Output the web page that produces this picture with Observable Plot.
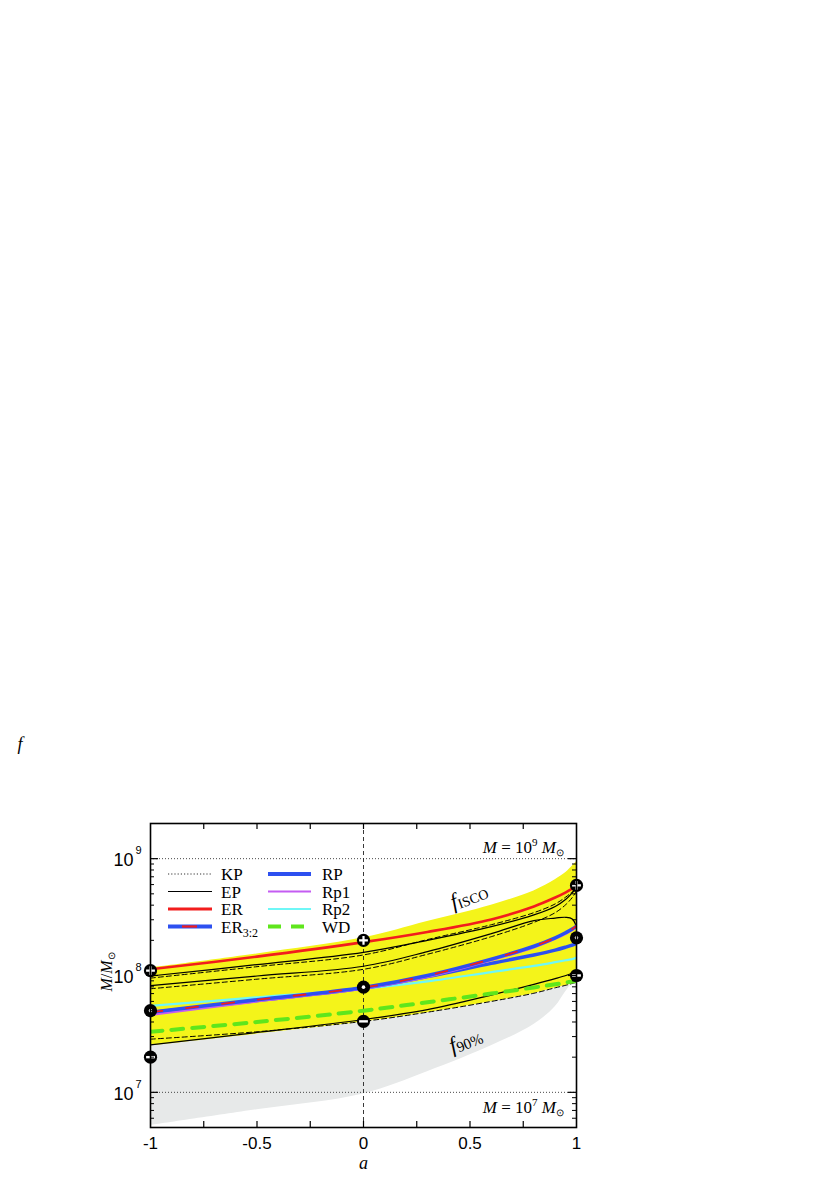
<!DOCTYPE html>
<html><head><meta charset="utf-8">
<script src="https://cdn.jsdelivr.net/npm/d3@7"></script>
<script src="https://cdn.jsdelivr.net/npm/@observablehq/plot@0.6"></script>
<style>
body{margin:0;background:#fff;}
#wrap{width:830px;height:1177px;}
</style></head><body>
<div id="wrap"></div>
<script>
// spin parameter grid
const aGrid = [-1, -0.5, 0, 0.3, 0.6, 0.8, 0.9, 0.95, 0.98, 1];
// yellow band (f_ISCO .. lower) and grey f90% region
const yellowHigh = [1.16e8, 1.53e8, 2.1e8, 2.9e8, 4.0e8, 5.3e8, 6.6e8, 7.6e8, 8.6e8, 9.4e8];
const yellowLow  = [2.5e7, 3.15e7, 4.0e7, 4.8e7, 5.95e7, 7.0e7, 7.8e7, 8.2e7, 8.5e7, 8.7e7];
const greyLow    = [5.2e6, 7.1e6, 9.7e6, 1.5e7, 2.5e7, 3.8e7, 5.4e7, 7.3e7, 8.5e7, 8.7e7];
// model curves
const erVals  = [1.13e8, 1.45e8, 1.93e8, 2.36e8, 3.02e8, 3.9e8, 4.65e8, 5.15e8, 5.55e8, 5.8e8];
const epA     = [9.9e7, 1.24e8, 1.58e8, 2.0e8, 2.62e8, 3.3e8, 3.9e8, 4.5e8, 5.1e8, 5.6e8];
const epB     = [8.2e7, 9.9e7, 1.2e8, 1.6e8, 2.28e8, 2.95e8, 3.1e8, 3.15e8, 3.05e8, 2.6e8];
const epC     = [2.55e7, 3.25e7, 4.2e7, 5.1e7, 6.8e7, 8.4e7, 9.4e7, 1.0e8, 1.05e8, 1.1e8];
const dashA   = [9.5e7, 1.19e8, 1.5e8, 2.03e8, 2.72e8, 3.45e8, 4.1e8, 4.7e8, 5.2e8, 5.5e8];
const dashB   = [7.7e7, 9.3e7, 1.13e8, 1.52e8, 2.15e8, 2.85e8, 3.45e8, 4.05e8, 4.65e8, 5.3e8];
const dashC   = [2.85e7, 3.3e7, 4.05e7, 4.85e7, 6.0e7, 7.05e7, 7.85e7, 8.25e7, 8.55e7, 8.75e7];
const er32    = [4.85e7, 6.2e7, 7.9e7, 1.0e8, 1.38e8, 1.78e8, 2.1e8, 2.33e8, 2.5e8, 2.65e8];
const rpVals  = [4.8e7, 6.1e7, 7.8e7, 0.98e8, 1.27e8, 1.5e8, 1.65e8, 1.75e8, 1.82e8, 1.88e8];
const rp1Vals = [4.6e7, 6.0e7, 7.7e7, 0.97e8, 1.35e8, 1.74e8, 2.06e8, 2.28e8, 2.45e8, 2.6e8];
const rp2Vals = [5.5e7, 6.5e7, 7.7e7, 8.9e7, 1.07e8, 1.21e8, 1.3e8, 1.35e8, 1.38e8, 1.42e8];
const wdVals  = [3.3e7, 4.0e7, 5.0e7, 5.9e7, 7.0e7, 7.9e7, 8.4e7, 8.7e7, 8.9e7, 9.0e7];
// observed mass markers at a = -1, 0, 1
const markerA = [-1, 0, 1];
const plusM   = [1.1e8, 2.0e8, 5.9e8];
const dotM    = [5.0e7, 7.95e7, 2.1e8];
const minusM  = [2.0e7, 4.05e7, 1.0e8];
// ticks
const xTicks  = [-0.75, -0.5, -0.25, 0, 0.25, 0.5, 0.75];
const xLabels = [-1, -0.5, 0, 0.5, 1];
const yMajor  = [1e7, 1e8, 1e9];
const yMinor  = [6e6, 7e6, 8e6, 9e6, 2e7, 3e7, 4e7, 5e7, 6e7, 7e7, 8e7, 9e7,
                 2e8, 3e8, 4e8, 5e8, 6e8, 7e8, 8e8, 9e8, 2e9];
const refMasses = [1e7, 1e9];

const S = vals => aGrid.map((a, i) => ({a, v: vals[i]}));
const band = aGrid.map((a, i) => ({a, lo: yellowLow[i], hi: yellowHigh[i], g: greyLow[i]}));
const M = vals => markerA.map((a, i) => ({a, v: vals[i]}));

const plusSym = {draw(ctx, size) {
  const r = Math.sqrt(size / Math.PI), t = 1.1;
  ctx.rect(-r, -t, 2 * r, 2 * t);
  ctx.rect(-t, -r, 2 * t, r - t);
  ctx.rect(-t, t, 2 * t, r - t);
}};
const minusSym = {draw(ctx, size) {
  const r = Math.sqrt(size / Math.PI), t = 1.2;
  ctx.rect(-r, -t, 2 * r, 2 * t);
}};

const W = 830, H = 1177, mT = 823, mB = 50, mL = 150, mR = 254;
const pW = W - mL - mR, pH = H - mT - mB;
const blue = "#2d50f0", red = "#f21d1d", magenta = "#c45cf2", cyan = "#6ff7f7", green = "#5fe61c";
const CURVE = "catmull-rom";
const lineOpt = (extra) => Object.assign({x: "a", y: "v", curve: CURVE, clip: true}, extra);

const fig = Plot.plot({
  width: W, height: H,
  marginTop: mT, marginBottom: mB, marginLeft: mL, marginRight: mR,
  x: {domain: [-1, 1], axis: null},
  y: {type: "log", domain: [5e6, 2e9], axis: null},
  style: {fontFamily: "Liberation Sans", background: "white", color: "black"},
  marks: [
    Plot.areaY(band, {x: "a", y1: "g", y2: "lo", fill: "#e7e9e9", curve: CURVE, clip: true}),
    Plot.areaY(band, {x: "a", y1: "lo", y2: "hi", fill: "#f4f41a", curve: CURVE, clip: true}),
    Plot.ruleY(refMasses, {y: d => d, stroke: "#333", strokeWidth: 0.9, strokeDasharray: "1,2"}),
    Plot.ruleX([0], {x: d => d, stroke: "#222", strokeWidth: 0.9, strokeDasharray: "4,3"}),
    Plot.line(S(dashA), lineOpt({stroke: "black", strokeWidth: 1, strokeDasharray: "5,3"})),
    Plot.line(S(dashB), lineOpt({stroke: "black", strokeWidth: 1, strokeDasharray: "5,3"})),
    Plot.line(S(dashC), lineOpt({stroke: "black", strokeWidth: 1, strokeDasharray: "5,3"})),
    Plot.line(S(epA), lineOpt({stroke: "black", strokeWidth: 1.2})),
    Plot.line(S(epB), lineOpt({stroke: "black", strokeWidth: 1.2})),
    Plot.line(S(epC), lineOpt({stroke: "black", strokeWidth: 1.2})),
    Plot.line(S(wdVals), lineOpt({stroke: green, strokeWidth: 4, strokeDasharray: "12,9"})),
    Plot.line(S(rp2Vals), lineOpt({stroke: cyan, strokeWidth: 2.2})),
    Plot.line(S(rpVals), lineOpt({stroke: blue, strokeWidth: 3.5})),
    Plot.line(S(rp1Vals), lineOpt({stroke: magenta, strokeWidth: 2.2})),
    Plot.line(S(er32), lineOpt({stroke: blue, strokeWidth: 3.5})),
    Plot.line(S(er32), lineOpt({stroke: red, strokeWidth: 1.8, strokeDasharray: "12,24"})),
    Plot.line(S(erVals), lineOpt({stroke: red, strokeWidth: 2.6})),
    // markers
    Plot.dot(M(plusM), {x: "a", y: "v", r: 6.6, fill: "black"}),
    Plot.dot(M(plusM), {x: "a", y: "v", r: 4.4, symbol: plusSym, fill: "white"}),
    Plot.dot(M(dotM), {x: "a", y: "v", r: 6.6, fill: "black"}),
    Plot.dot(M(dotM), {x: "a", y: "v", r: 1.8, fill: "white"}),
    Plot.dot(M(minusM), {x: "a", y: "v", r: 6.6, fill: "black"}),
    Plot.dot(M(minusM), {x: "a", y: "v", r: 4.4, symbol: minusSym, fill: "white"}),
    // inward ticks
    Plot.ruleX(xTicks, {x: d => d, insetTop: pH - 6, stroke: "black", strokeWidth: 1.2}),
    Plot.ruleX(xTicks, {x: d => d, insetBottom: pH - 6, stroke: "black", strokeWidth: 1.2}),
    Plot.ruleY(yMajor, {y: d => d, insetRight: pW - 8, stroke: "black", strokeWidth: 1.2}),
    Plot.ruleY(yMinor, {y: d => d, insetRight: pW - 4, stroke: "black", strokeWidth: 1}),
    Plot.ruleY(yMajor, {y: d => d, insetLeft: pW - 8, stroke: "black", strokeWidth: 1.2}),
    Plot.ruleY(yMinor, {y: d => d, insetLeft: pW - 4, stroke: "black", strokeWidth: 1}),
    Plot.frame({stroke: "black", strokeWidth: 1.6}),
    // tick labels
    Plot.text(xLabels, {x: d => d, text: d => String(d), frameAnchor: "bottom", dy: 21, fontSize: 17, fill: "black"}),
    Plot.text(yMajor, {y: d => d, text: () => "10", frameAnchor: "left", dx: -17, dy: 2, textAnchor: "end", fontSize: 18, fill: "black"}),
    Plot.text(yMajor, {y: d => d, text: d => String(Math.round(Math.log10(d))), frameAnchor: "left", dx: -15, dy: -8, textAnchor: "start", fontSize: 11, fill: "black"}),
    Plot.text(["a"], {text: d => d, frameAnchor: "bottom", dy: 41, fontSize: 18, fontStyle: "italic", fontFamily: "Liberation Serif", fill: "black"})
  ]
});
document.getElementById("wrap").appendChild(fig);

// rich-text annotations positioned through the plot's scales
const svg = d3.select(fig);
const xs = fig.scale("x"), ys = fig.scale("y");
function rich(x, y, parts, opts = {}) {
  const t = svg.append("text").attr("x", x).attr("y", y)
    .attr("font-family", "Liberation Serif").attr("font-size", opts.size || 17)
    .attr("fill", "black").attr("text-anchor", opts.anchor || "start");
  if (opts.rotate != null) t.attr("transform", `rotate(${opts.rotate},${x},${y})`);
  parts.forEach(p => {
    const s = t.append("tspan").text(p.t);
    if (p.i) s.attr("font-style", "italic");
    if (p.s) s.attr("font-size", p.s);
    if (p.dy) s.attr("dy", p.dy);
  });
  return t;
}
const xR = xs.apply(1);
// M = 10^9 Msun and M = 10^7 Msun
const mParts = e => [{t: "M", i: 1}, {t: " = 10"}, {t: e, s: 11, dy: -7}, {t: " ", dy: 7}, {t: "M", i: 1}, {t: "\u2299", s: 10, dy: 3}];
rich(xR - 12, ys.apply(1e9) - 5, mParts("9"), {anchor: "end"});
rich(xR - 12, ys.apply(1e7) + 21, mParts("7"), {anchor: "end"});
// f_ISCO and f_90%
rich(xs.apply(0.425), ys.apply(3.66e8), [{t: "f", i: 1, s: 22}, {t: "ISCO", s: 14, dy: 2}], {rotate: -21});
rich(xs.apply(0.42), ys.apply(2.15e7), [{t: "f", i: 1, s: 22}, {t: "90%", s: 15, dy: 2}], {rotate: -22});
// y label
rich(112, (ys.apply(2e9) + ys.apply(5e6)) / 2 - 3, [{t: "M", i: 1}, {t: "/"}, {t: "M", i: 1}, {t: "\u2299", s: 10, dy: 3}], {anchor: "middle", rotate: -90, size: 16});
// stray f
rich(20, 750, [{t: "f", i: 1}], {anchor: "middle", size: 18});

// legend
const rows = [874, 891.5, 909, 926.5];
const legend = svg.append("g");
function seg(x0, x1, y, stroke, w, dash) {
  const l = legend.append("line").attr("x1", x0).attr("x2", x1).attr("y1", y).attr("y2", y)
    .attr("stroke", stroke).attr("stroke-width", w);
  if (dash) l.attr("stroke-dasharray", dash);
}
const c1 = [168, 212], c2 = [268, 311];
seg(c1[0], c1[1], rows[0], "#333", 1, "1.2,2");
seg(c1[0], c1[1], rows[1], "black", 1.2);
seg(c1[0], c1[1], rows[2], red, 3);
seg(c1[0], c1[1], rows[3], blue, 4);
seg(182, 197, rows[3], red, 2.2);
seg(c2[0], c2[1], rows[0], blue, 4);
seg(c2[0], c2[1], rows[1], magenta, 2.2);
seg(c2[0], c2[1], rows[2], cyan, 2.2);
seg(c2[0], c2[1], rows[3], green, 4, "13,10");
const lab = (x, y, parts) => rich(x, y + 6, parts, {size: 17});
lab(221, rows[0], [{t: "KP"}]);
lab(221, rows[1], [{t: "EP"}]);
lab(221, rows[2], [{t: "ER"}]);
lab(221, rows[3], [{t: "ER"}, {t: "3:2", s: 12, dy: 4}]);
lab(322, rows[0], [{t: "RP"}]);
lab(322, rows[1], [{t: "Rp1"}]);
lab(322, rows[2], [{t: "Rp2"}]);
lab(322, rows[3], [{t: "WD"}]);
</script>
</body></html>
